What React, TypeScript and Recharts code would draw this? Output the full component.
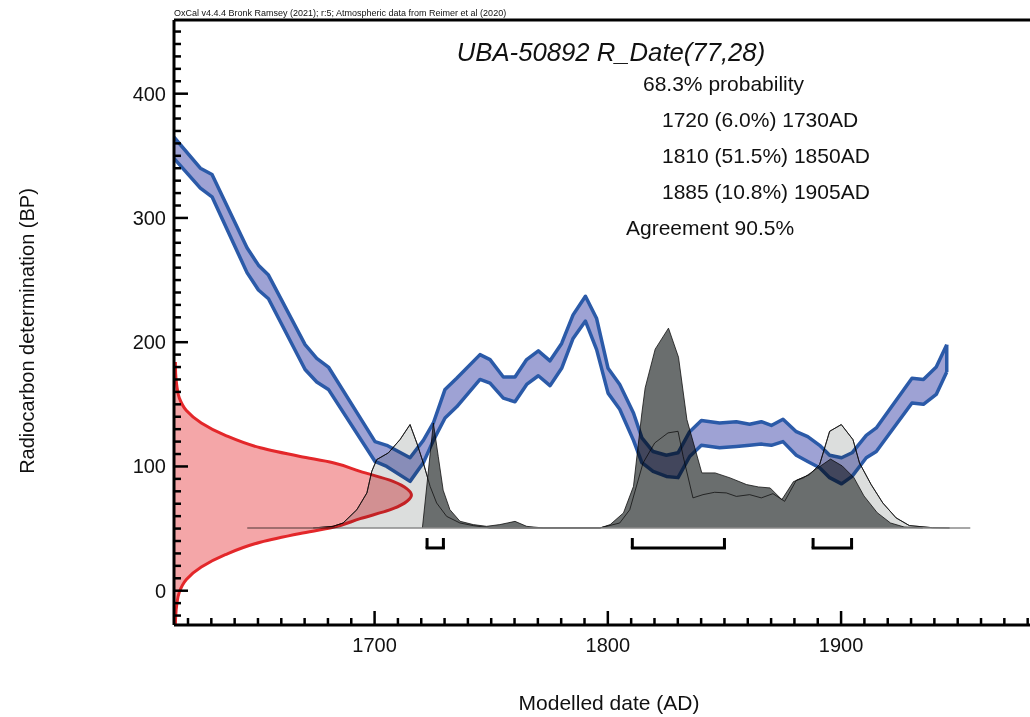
import React from "react";
import { Area, ComposedChart, Line, ReferenceLine, XAxis, YAxis } from "recharts";

// ---- data ----

// calibration curve (IntCal20 band), BP
const BAND_YEARS = [
  1614, 1625.3, 1630.3, 1645.3, 1650.2, 1654.5, 1670.2, 1675.2, 1680.2, 1700.2, 1705.2, 1715.2,
  1720.9, 1725.2, 1730.2, 1735.2, 1745.2, 1749.5, 1755.2, 1760.2, 1765.2, 1770.2, 1775.2, 1780.2,
  1785.1, 1790.4, 1795.2, 1800.1, 1805.1, 1811, 1814.6, 1819.4, 1825.1, 1830.1, 1835.1, 1840.1,
  1847.9, 1855.1, 1860.8, 1865.8, 1870.1, 1875.1, 1880.8, 1885.7, 1890.8, 1895.1, 1900.2, 1904.7,
  1910.8, 1915.1, 1930.4, 1935.3, 1940.8, 1945.3,
];
const BAND_HIGH = [
  365, 340, 335, 276, 262, 254, 198, 187, 180, 120, 117, 107,
  121, 135, 162, 171, 190, 186, 172, 172, 186, 193, 185, 199,
  222, 237, 219, 179, 166, 143, 123, 112, 109, 111, 128, 137,
  135, 136, 134, 136, 133, 138, 128, 124, 117, 109, 107, 111,
  125, 131, 171, 170, 180, 198,
];
const BAND_LOW = [
  348, 324, 317, 256, 242, 235, 178, 168, 162, 104, 100, 88,
  103, 121, 139, 148, 170, 167, 155, 152, 166, 173, 165, 179,
  203, 217, 194, 159, 146, 121, 103, 96, 92, 91, 108, 117,
  115, 116, 117, 118, 117, 120, 109, 104, 99, 91, 86, 92,
  107, 112, 151, 150, 158, 176,
];

// R_Date(77,28) drawn along the BP axis: bp -> extent in years
const RED_BP = [
  -27, -21, -11, -1, 9, 19, 29, 39, 46, 51, 58, 66, 72, 77,
  82, 88, 96, 103, 108, 115, 125, 135, 145, 155, 165, 175, 184,
];
const RED_YEAR = [
  1614.6, 1614.7, 1615.2, 1616.3, 1619.3, 1625.7, 1636, 1651, 1668.1, 1682.2, 1693.8, 1707.9, 1713.9, 1715.8,
  1713.9, 1707.9, 1693.8, 1682.2, 1668.1, 1651, 1636, 1625.7, 1619.3, 1616.3, 1615.2, 1614.7, 1614.6,
];

// probability distributions, height above the baseline (BP units)
const BASE_BP = 50.5;
const BASELINE_SPAN = [1645.4, 1955.4];

const LIGHT_YEARS = [
  1673.7, 1682.2, 1686.5, 1692.4, 1696.7, 1698.8, 1700.9, 1705.9, 1710.9, 1715.2, 1718.1, 1720.9,
  1723.8, 1726.6, 1730.9, 1736.6, 1742.3, 1749.5, 1796.6, 1805.1, 1809.4, 1815.1, 1820.1, 1825.8,
  1830.1, 1832.3, 1836.5, 1840.8, 1845.8, 1850.8, 1855.1, 1860.8, 1865.8, 1870.8, 1875.8, 1880.8,
  1886.5, 1890.8, 1895.1, 1900.1, 1905.1, 1907.9, 1912.9, 1917.9, 1923.6, 1929.3, 1939.2, 1946.5,
];
const LIGHT_H = [
  0, 1.3, 4, 14.7, 28.2, 45.6, 55, 60.4, 71.1, 83.2, 68.4, 52.3,
  33.5, 20.1, 9.3, 4, 1.9, 0, 0, 4, 14.7, 52.3, 68.4, 76.5,
  77.8, 57.6, 24.2, 26.8, 28.7, 28.2, 25.4, 26.8, 24.2, 27.6, 21.4, 38.3,
  42.9, 51, 77.8, 83.2, 71.1, 52.3, 34.9, 20.1, 8.1, 1.9, 0.2, 0,
];

const DARK_YEARS = [
  1720.5, 1725.2, 1727.3, 1729.4, 1732.3, 1736.6, 1742.3, 1748, 1753.7, 1760.2, 1765.2, 1772.3,
  1796.6, 1801, 1806.7, 1811, 1814.6, 1816, 1820.3, 1826, 1830.3, 1833.9, 1840.3, 1846,
  1852.4, 1859.5, 1864.6, 1869.6, 1874.6, 1879.6, 1883.9, 1888.9, 1895.5, 1900.5, 1905.5, 1909.8,
  1915.5, 1921.2, 1927, 1935,
];
const DARK_H = [
  0, 84.5, 57.5, 30.4, 14.7, 5.4, 2.7, 1.3, 2.7, 5.3, 1.3, 0,
  0, 2.7, 12.1, 33.5, 92.6, 112.7, 143.9, 160.8, 137.4, 87.2, 44.3, 44.3,
  40.3, 34.9, 33, 32.2, 22.8, 37.3, 40.3, 46.9, 55.4, 49.9, 40.5, 25.8,
  12.3, 4, 0.8, 0,
];

// 68.3% ranges
const RANGES = [
  [1722.5, 1729.5],
  [1810.5, 1850],
  [1888, 1904.5],
];
const RANGE_BOTTOM = 34.4;
const RANGE_TOP = 42.4;

const X_DOMAIN: [number, number] = [1614, 1981];
const Y_DOMAIN: [number, number] = [-27.6, 459.3];
const X_TICKS = Array.from({ length: 37 }, (_, i) => 1620 + i * 10);
const Y_TICKS = Array.from({ length: 48 }, (_, i) => -20 + i * 10);

const STATS = [
  "68.3% probability",
  "1720 (6.0%) 1730AD",
  "1810 (51.5%) 1850AD",
  "1885 (10.8%) 1905AD",
  "Agreement 90.5%",
];

// ---- layout ----
const W = 1030;
const H = 717;
const FONT = "'Liberation Sans', Arial, Helvetica, sans-serif";
const PLOT = { top: 20, right: 0, bottom: 92, left: 174 };
const TICK_GAP = 8;

const bandRows = BAND_YEARS.map((year, i) => ({
  year,
  hi: BAND_HIGH[i],
  lo: BAND_LOW[i],
  range: [BAND_LOW[i], BAND_HIGH[i]],
}));

const redRows = RED_BP.map((bp, i) => ({ bp, year: RED_YEAR[i] }));

const distRows = Array.from(new Set([...LIGHT_YEARS, ...DARK_YEARS]))
  .sort((a, b) => a - b)
  .map((year) => {
    const li = LIGHT_YEARS.indexOf(year);
    const di = DARK_YEARS.indexOf(year);
    return {
      year,
      light: li >= 0 ? BASE_BP + LIGHT_H[li] : null,
      dark: di >= 0 ? BASE_BP + DARK_H[di] : null,
    };
  });

function XTick({ x, y, payload }: any) {
  const v = payload.value as number;
  const major = v % 100 === 0;
  const axisY = y - TICK_GAP;
  return (
    <g>
      <line x1={x} x2={x} y1={axisY} y2={axisY - (major ? 14 : 7)} stroke="#000" strokeWidth={2.5} />
      {major && (
        <text x={x} y={axisY + 27} textAnchor="middle" fontSize={20} fontFamily={FONT} fill="#111">
          {v}
        </text>
      )}
    </g>
  );
}

function YTick({ x, y, payload }: any) {
  const v = payload.value as number;
  const major = v % 100 === 0;
  const axisX = x + TICK_GAP;
  return (
    <g>
      <line x1={axisX} x2={axisX + (major ? 14 : 7)} y1={y} y2={y} stroke="#000" strokeWidth={2.5} />
      {major && (
        <text x={x} y={y + 7} textAnchor="end" fontSize={20} fontFamily={FONT} fill="#111">
          {v}
        </text>
      )}
    </g>
  );
}

const layer: React.CSSProperties = { position: "absolute", left: 0, top: 0, width: W, height: H };

export default function App() {
  const lastBand = bandRows[bandRows.length - 1];
  return (
    <div style={{ ...layer, background: "#fff", overflow: "hidden" }}>
      {/* axes, distributions, ranges */}
      <div style={layer}>
        <ComposedChart
          width={W}
          height={H}
          data={distRows}
          margin={{ top: PLOT.top, right: 0, bottom: 32, left: 114 }}
        >
          <XAxis
            type="number"
            dataKey="year"
            domain={X_DOMAIN}
            allowDataOverflow
            ticks={X_TICKS}
            interval={0}
            height={60}
            tickSize={0}
            tickMargin={TICK_GAP}
            tickLine={false}
            axisLine={{ stroke: "#000", strokeWidth: 3 }}
            tick={(p: any) => <XTick {...p} />}
          />
          <YAxis
            type="number"
            domain={Y_DOMAIN}
            allowDataOverflow
            ticks={Y_TICKS}
            interval={0}
            width={60}
            tickSize={0}
            tickMargin={TICK_GAP}
            tickLine={false}
            axisLine={{ stroke: "#000", strokeWidth: 3 }}
            tick={(p: any) => <YTick {...p} />}
          />
          <Area
            type="linear"
            dataKey="light"
            baseValue={BASE_BP}
            connectNulls
            stroke="#111"
            strokeWidth={0.8}
            fill="#dcdedd"
            fillOpacity={1}
            isAnimationActive={false}
          />
          <Area
            type="linear"
            dataKey="dark"
            baseValue={BASE_BP}
            connectNulls
            stroke="#111"
            strokeWidth={0.8}
            fill="#6a6e6e"
            fillOpacity={1}
            isAnimationActive={false}
          />
          <Line
            type="linear"
            dataKey="light"
            connectNulls
            stroke="#111"
            strokeWidth={0.8}
            dot={false}
            activeDot={false}
            isAnimationActive={false}
          />
          <ReferenceLine
            segment={[
              { x: BASELINE_SPAN[0], y: BASE_BP },
              { x: BASELINE_SPAN[1], y: BASE_BP },
            ]}
            stroke="#8a8a8a"
            strokeWidth={1.5}
          />
          {RANGES.map(([a, b], i) => [
            <ReferenceLine
              key={`l${i}`}
              segment={[
                { x: a, y: RANGE_TOP },
                { x: a, y: RANGE_BOTTOM },
              ]}
              stroke="#000"
              strokeWidth={3}
            />,
            <ReferenceLine
              key={`m${i}`}
              segment={[
                { x: a, y: RANGE_BOTTOM },
                { x: b, y: RANGE_BOTTOM },
              ]}
              stroke="#000"
              strokeWidth={3}
              strokeLinecap="square"
            />,
            <ReferenceLine
              key={`r${i}`}
              segment={[
                { x: b, y: RANGE_TOP },
                { x: b, y: RANGE_BOTTOM },
              ]}
              stroke="#000"
              strokeWidth={3}
            />,
          ])}
          <ReferenceLine y={Y_DOMAIN[1]} stroke="#000" strokeWidth={3} ifOverflow="visible" />
        </ComposedChart>
      </div>

      {/* calibration curve, multiplied over the distributions */}
      <div style={{ ...layer, mixBlendMode: "multiply", pointerEvents: "none" }}>
        <ComposedChart width={W} height={H} data={bandRows} margin={PLOT}>
          <XAxis type="number" dataKey="year" domain={X_DOMAIN} allowDataOverflow hide />
          <YAxis type="number" domain={Y_DOMAIN} allowDataOverflow hide />
          <Area
            type="linear"
            dataKey="range"
            stroke="none"
            fill="#9ea2d4"
            fillOpacity={1}
            isAnimationActive={false}
          />
          <Line
            type="linear"
            dataKey="hi"
            stroke="#2b5aa8"
            strokeWidth={3.5}
            strokeLinejoin="round"
            dot={false}
            activeDot={false}
            isAnimationActive={false}
          />
          <Line
            type="linear"
            dataKey="lo"
            stroke="#2b5aa8"
            strokeWidth={3.5}
            strokeLinejoin="round"
            dot={false}
            activeDot={false}
            isAnimationActive={false}
          />
          <ReferenceLine
            segment={[
              { x: lastBand.year, y: lastBand.lo },
              { x: lastBand.year, y: lastBand.hi },
            ]}
            stroke="#2b5aa8"
            strokeWidth={3.5}
          />
        </ComposedChart>
      </div>

      {/* radiocarbon measurement on the BP axis */}
      <div style={{ ...layer, mixBlendMode: "multiply", pointerEvents: "none" }}>
        <ComposedChart layout="vertical" width={W} height={H} data={redRows} margin={PLOT}>
          <XAxis type="number" domain={X_DOMAIN} allowDataOverflow hide />
          <YAxis type="number" dataKey="bp" domain={Y_DOMAIN} allowDataOverflow reversed hide />
          <Area
            type="monotone"
            dataKey="year"
            baseValue="dataMin"
            stroke="#e3272a"
            strokeWidth={3}
            fill="#f4a6a8"
            fillOpacity={1}
            isAnimationActive={false}
          />
        </ComposedChart>
      </div>

      {/* texts */}
      <svg width={W} height={H} style={{ ...layer, pointerEvents: "none" }} fontFamily={FONT}>
        <text x={174} y={16} fontSize={9} fill="#111">
          OxCal v4.4.4 Bronk Ramsey (2021); r:5; Atmospheric data from Reimer et al (2020)
        </text>
        <text x={611} y={61} fontSize={25.7} fontStyle="italic" textAnchor="middle" fill="#111">
          UBA-50892 R_Date(77,28)
        </text>
        <text x={643} y={91} fontSize={21} fill="#111">{STATS[0]}</text>
        <text x={662} y={127} fontSize={21} fill="#111">{STATS[1]}</text>
        <text x={662} y={163} fontSize={21} fill="#111">{STATS[2]}</text>
        <text x={662} y={199} fontSize={21} fill="#111">{STATS[3]}</text>
        <text x={626} y={235} fontSize={21} fill="#111">{STATS[4]}</text>
        <text x={609} y={710} fontSize={21} textAnchor="middle" fill="#111">
          Modelled date (AD)
        </text>
        <text
          transform="translate(34,331) rotate(-90)"
          fontSize={20}
          textAnchor="middle"
          fill="#111"
        >
          Radiocarbon determination (BP)
        </text>
      </svg>
    </div>
  );
}
